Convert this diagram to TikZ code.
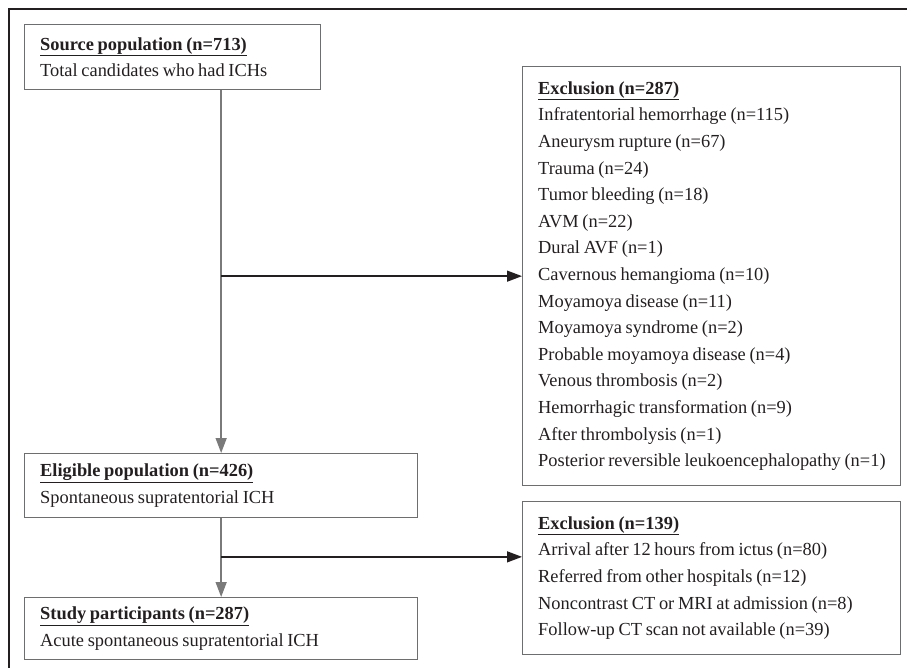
\documentclass[tikz,border=0pt]{standalone}
\usepackage{fontspec}
\setmainfont{Liberation Serif}[WordSpace=0.8]
\usetikzlibrary{arrows.meta,calc}
\definecolor{txt}{HTML}{231F20}
\definecolor{boxline}{HTML}{6D6E70}
\definecolor{vline}{HTML}{7A7A7A}
\tikzset{
  box/.style={draw=boxline, line width=1.3pt, anchor=north west, inner sep=0pt},
  boxtext/.style={anchor=west, align=left, inner sep=0pt, text=txt,
    font=\fontsize{18.4}{26.6}\selectfont},
  vconn/.style={draw=vline, line width=1.5pt, -{Triangle[length=15pt,width=11pt]}},
  hconn/.style={draw=txt, line width=1.3pt, -{Triangle[length=15pt,width=11pt]}},
}
\newcommand{\hdr}[1]{\underline{\textbf{#1}}}
\begin{document}
\begin{tikzpicture}[x=1pt,y=-1pt]
\useasboundingbox (0,0) rectangle (907,668);
\draw[draw=txt, line width=1.5pt] (907,9) -- (9,9) -- (9,668);

\node[box, minimum width=296pt, minimum height=65pt] (src) at (24,24) {};
\node[boxtext] (srct) at ($(src.west)+(16,0)$)
  {\hdr{Source population (n=713)}\\Total candidates who had ICHs};

\node[box, minimum width=378pt, minimum height=419pt] (exa) at (522,66) {};
\node[boxtext] (exat) at ($(exa.west)+(16,0)$)
  {\hdr{Exclusion (n=287)}\\
   Infratentorial hemorrhage (n=115)\\
   Aneurysm rupture (n=67)\\
   Trauma (n=24)\\
   Tumor bleeding (n=18)\\
   AVM (n=22)\\
   Dural AVF (n=1)\\
   Cavernous hemangioma (n=10)\\
   Moyamoya disease (n=11)\\
   Moyamoya syndrome (n=2)\\
   Probable moyamoya disease (n=4)\\
   Venous thrombosis (n=2)\\
   Hemorrhagic transformation (n=9)\\
   After thrombolysis (n=1)\\
   Posterior reversible leukoencephalopathy (n=1)};

\node[box, minimum width=393pt, minimum height=64pt] (elig) at (24,453) {};
\node[boxtext] (eligt) at ($(elig.west)+(16,0)$)
  {\hdr{Eligible population (n=426)}\\Spontaneous supratentorial ICH};

\node[box, minimum width=378pt, minimum height=153pt] (exb) at (522,501) {};
\node[boxtext] (exbt) at ($(exb.west)+(16,0)$)
  {\hdr{Exclusion (n=139)}\\
   Arrival after 12 hours from ictus (n=80)\\
   Referred from other hospitals (n=12)\\
   Noncontrast CT or MRI at admission (n=8)\\
   Follow-up CT scan not available (n=39)};

\node[box, minimum width=393pt, minimum height=62pt] (study) at (24,597) {};
\node[boxtext] (studyt) at ($(study.west)+(16,0)$)
  {\hdr{Study participants (n=287)}\\Acute spontaneous supratentorial ICH};

\coordinate (b1) at (elig.north |- exa.west);
\coordinate (b2) at ($(elig.south)!0.49!(study.north)$);
\draw[vconn] (src.south -| elig.north) -- (elig.north);
\draw[hconn] (b1) -- (exa.west);
\draw[vconn] (elig.south) -- (study.north);
\draw[hconn] (b2) -- (exb.west |- b2);
\end{tikzpicture}
\end{document}
